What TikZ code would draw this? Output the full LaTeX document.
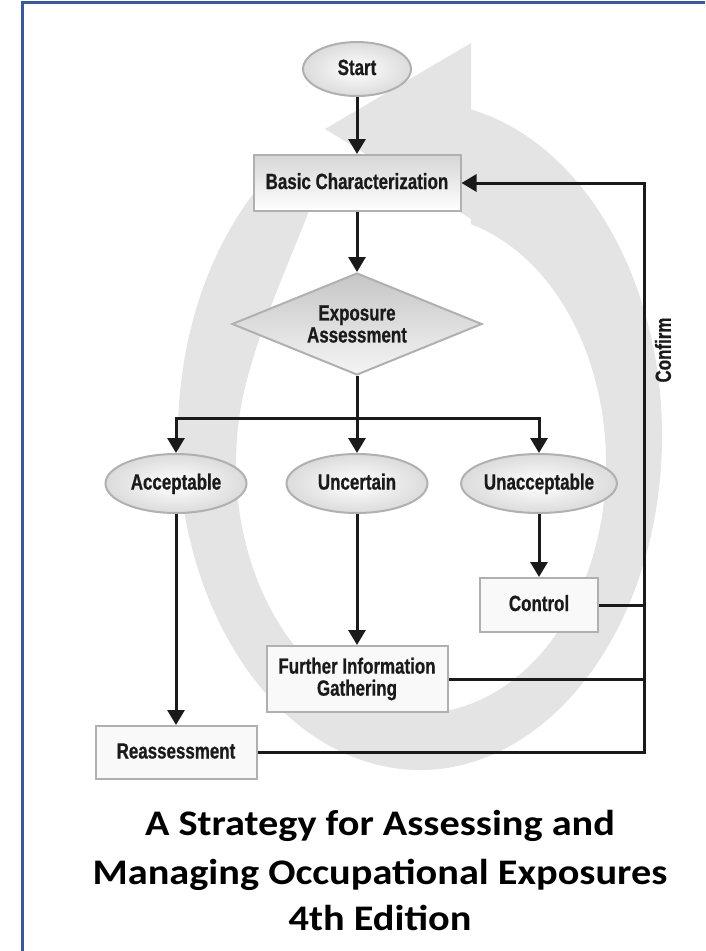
\documentclass[tikz,border=0pt]{standalone}
\usepackage{fontspec}
\usetikzlibrary{shapes.geometric,arrows.meta}
\newfontfamily\nodefont[FakeStretch=0.77, BoldFeatures={FakeBold=0.7}]{Liberation Sans}
\newfontfamily\titlefont[FakeStretch=1.12]{Carlito}
\definecolor{band}{HTML}{E4E4E4}
\definecolor{bord}{HTML}{B0B0B0}
\definecolor{ink}{HTML}{1A1A1A}
\definecolor{framecol}{HTML}{3B5998}
\begin{document}
\begin{tikzpicture}[x=1pt,y=-1pt,
  lbl/.style={font=\nodefont\bfseries\fontsize{22}{22}\selectfont, text=ink, align=center},
  oneline/.style={text height=16pt, text depth=4pt},
  boxnode/.style={lbl, draw=bord, line width=2pt, fill=gray!5, inner sep=0pt},
  ovalnode/.style={lbl, oneline, ellipse, draw=bord, line width=2pt, inner color=white, outer color=gray!28, inner sep=0pt, minimum width=141pt, minimum height=59pt},
  ln/.style={draw=ink, line width=3pt},
  arr/.style={ln, -{Triangle[width=17pt,length=15pt]}},
  ttl/.style={font=\titlefont\bfseries\fontsize{36}{40}\selectfont, text=black, anchor=base},
]
\useasboundingbox (0,0) rectangle (705,951);
% grey circular arrow
\fill[band] (471.1,109.5) arc[start angle=-77.8, end angle=228.7, x radius=242, y radius=334]
  -- (315,195) .. controls (295,250) and (266,309) .. (247.2,378.8)
  arc[start angle=200, end angle=-74.3, x radius=185, y radius=249] -- cycle;
\fill[band] (325,129) -- (471,43) -- (471,219) -- cycle;
% frame
\draw[framecol, line width=3pt] (22.5,951) -- (22.5,2.5) -- (705,2.5);
% nodes
\node[ovalnode, minimum width=108pt, minimum height=54pt] (start) at (357,69) {Start};
\node[boxnode, oneline, minimum width=207pt, minimum height=56pt, top color=gray!32, bottom color=white] (bc) at (357,183) {Basic Characterization};
\node[lbl, diamond, aspect=2.45, draw=bord, line width=2pt, top color=gray!45, bottom color=gray!8, minimum width=250pt, minimum height=102pt, inner sep=0pt] (ea) at (357,324) {Exposure\\Assessment};
\node[ovalnode] (acc) at (176,483.5) {Acceptable};
\node[ovalnode] (unc) at (357,483.5) {Uncertain};
\node[ovalnode] (unacc) at (539,483.5) {Unacceptable};
\node[boxnode, oneline, minimum width=118pt, minimum height=54pt] (ctl) at (539,605) {Control};
\node[boxnode, minimum width=181pt, minimum height=66pt] (fig) at (357,679) {Further Information\\Gathering};
\node[boxnode, oneline, minimum width=161pt, minimum height=53pt] (reas) at (176,752.5) {Reassessment};
\node[lbl, rotate=90] (conf) at (663,350) {Confirm};
% connectors
\coordinate (j) at (357,418);
\coordinate (cf) at (644,183);
\draw[arr] (start.south) -- (bc.north);
\draw[arr] (bc.south) -- (ea.north);
\draw[ln] (ea.south) -- (j);
\draw[arr] (j) -| (acc.north);
\draw[arr] (j) -| (unacc.north);
\draw[arr] (j) -- (unc.north);
\draw[arr] (acc.south) -- (reas.north);
\draw[arr] (unc.south) -- (fig.north);
\draw[arr] (unacc.south) -- (ctl.north);
\draw[ln] (ctl.east) -- (ctl.east -| cf);
\draw[ln] (fig.east) -- (fig.east -| cf);
\draw[arr] (reas.east) -| (cf) -- (bc.east);
% title
\node[ttl] (t1) at (380,835) {A Strategy for Assessing and};
\node[ttl] (t2) at (380,884) {Managing Occupational Exposures};
\node[ttl] (t3) at (380,930) {4th Edition};
\end{tikzpicture}
\end{document}
